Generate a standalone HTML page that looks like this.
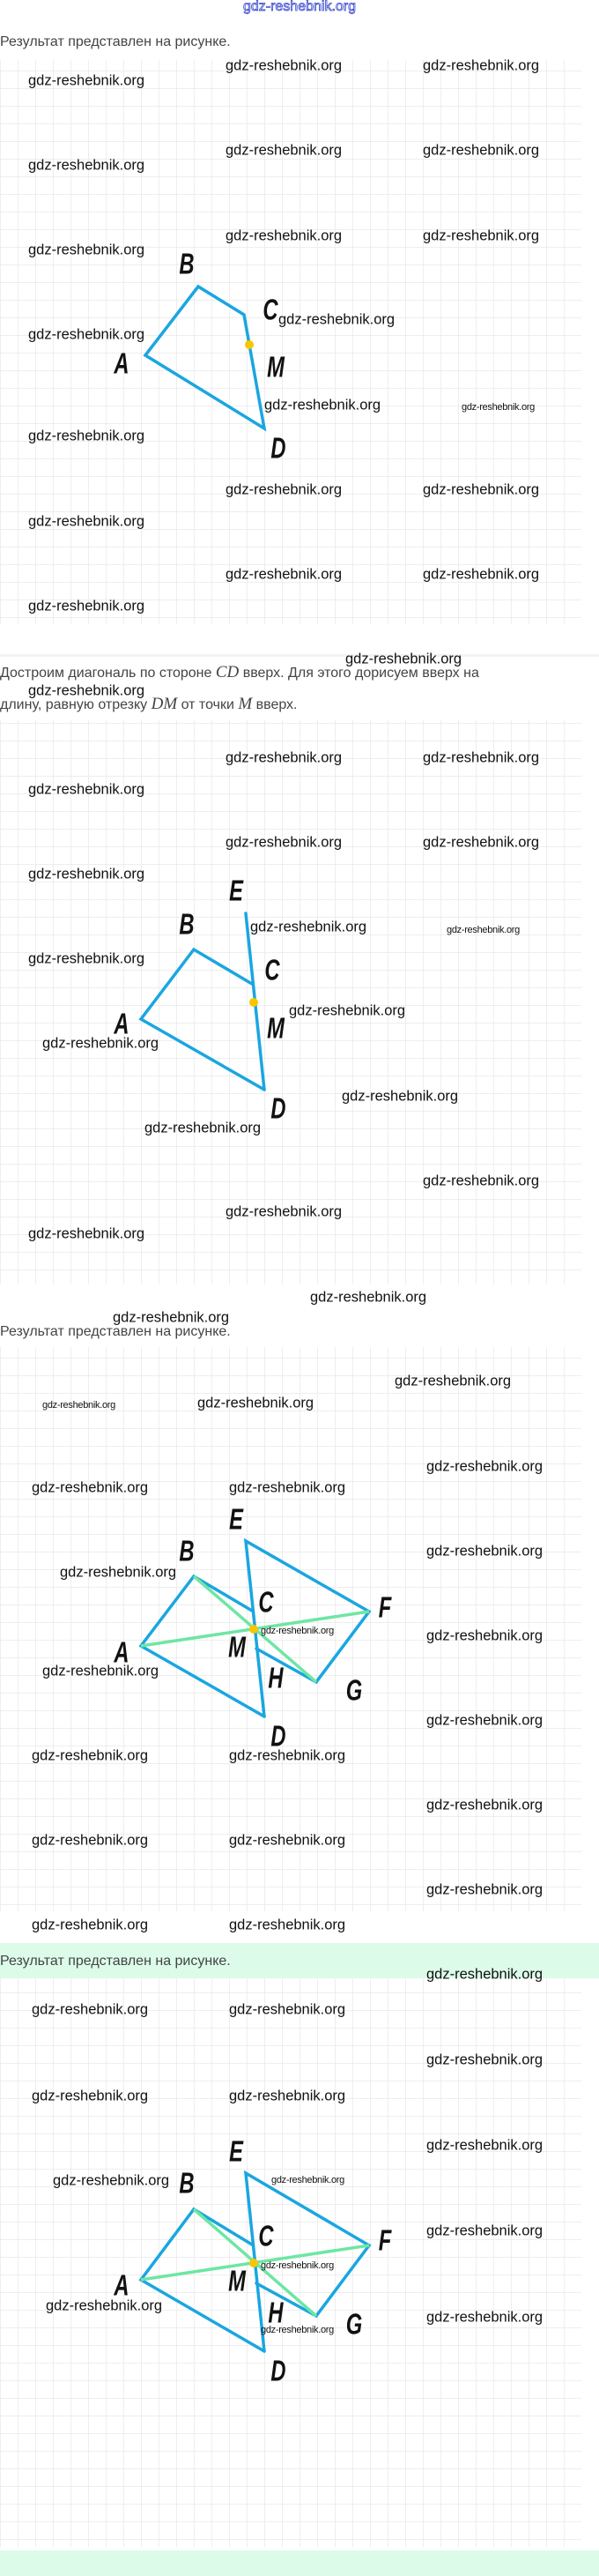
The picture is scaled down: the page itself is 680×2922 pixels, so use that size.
<!DOCTYPE html>
<html><head><meta charset="utf-8"><style>
html,body{margin:0;padding:0;background:#fff}
svg{display:block}
.w{font-family:"Liberation Sans",sans-serif;font-size:16.5px;fill:#111;dominant-baseline:middle}
.ws{font-family:"Liberation Sans",sans-serif;font-size:11px;fill:#111;dominant-baseline:middle;letter-spacing:-0.3px}
.t{font-family:"Liberation Sans",sans-serif;font-size:16px;fill:#444;dominant-baseline:middle}
.m{font-family:"Liberation Serif",serif;font-style:italic;font-size:19px;fill:#444}
.L{font-family:"Liberation Sans",sans-serif;font-weight:bold;font-style:italic;font-size:33px;fill:#111;text-anchor:middle;dominant-baseline:middle}
.b{stroke:#1aa6e0;stroke-width:3.5;fill:none;stroke-linejoin:miter;stroke-linecap:round}
.g{stroke:#6ee6a4;stroke-width:3.5;fill:none}
</style></head><body>
<svg width="680" height="2922" viewBox="0 0 680 2922" xmlns="http://www.w3.org/2000/svg">
<defs>
<pattern id="grid" x="0" y="0" width="20" height="20" patternUnits="userSpaceOnUse">
<path d="M 20 0 L 0 0 0 20" fill="none" stroke="#e9e9e9" stroke-width="1.6"/>
</pattern>
</defs>
<!-- section 1 -->
<text x="340" y="12" text-anchor="middle" font-family="Liberation Sans,sans-serif" font-size="16" fill="#fff" stroke="#3344cc" stroke-width="0.8">gdz-reshebnik.org</text>
<text class="t" x="0" y="48">Результат представлен на рисунке.</text>
<rect x="0" y="68" width="660" height="640" fill="url(#grid)"/>
<rect x="0" y="742" width="680" height="3" fill="#f2f2f2"/>
<text class="w" x="32" y="92">gdz-reshebnik.org</text><text class="w" x="256" y="75">gdz-reshebnik.org</text><text class="w" x="480" y="75">gdz-reshebnik.org</text>
<text class="w" x="32" y="188">gdz-reshebnik.org</text><text class="w" x="256" y="171">gdz-reshebnik.org</text><text class="w" x="480" y="171">gdz-reshebnik.org</text>
<text class="w" x="32" y="284">gdz-reshebnik.org</text><text class="w" x="256" y="268">gdz-reshebnik.org</text><text class="w" x="480" y="268">gdz-reshebnik.org</text>
<text class="w" x="32" y="380">gdz-reshebnik.org</text>
<text class="w" x="300" y="460">gdz-reshebnik.org</text><text class="ws" x="524" y="462">gdz-reshebnik.org</text>
<text class="w" x="32" y="495">gdz-reshebnik.org</text>
<text class="w" x="256" y="556">gdz-reshebnik.org</text><text class="w" x="480" y="556">gdz-reshebnik.org</text>
<text class="w" x="32" y="592">gdz-reshebnik.org</text>
<text class="w" x="256" y="652">gdz-reshebnik.org</text><text class="w" x="480" y="652">gdz-reshebnik.org</text>
<text class="w" x="32" y="688">gdz-reshebnik.org</text>
<polygon class="b" points="165,403 225,325 277,357 300,486"/>
<circle cx="283" cy="391" r="5" fill="#f7c600"/>
<text class="L" transform="translate(212,302) scale(0.72,1)">B</text>
<text class="L" transform="translate(307,354) scale(0.72,1)">C</text>
<text class="w" x="316" y="363">gdz-reshebnik.org</text>
<text class="L" transform="translate(138,415) scale(0.72,1)">A</text>
<text class="L" transform="translate(313,419) scale(0.72,1)">M</text>
<text class="L" transform="translate(316,511) scale(0.72,1)">D</text>

<!-- section 2 -->
<text class="t" x="0" y="764">Достроим диагональ по стороне <tspan class="m">CD</tspan> вверх. Для этого дорисуем вверх на</text>
<text class="t" x="0" y="800">длину, равную отрезку <tspan class="m">DM</tspan> от точки <tspan class="m">M</tspan> вверх.</text>
<text class="w" x="392" y="748">gdz-reshebnik.org</text>
<text class="w" x="32" y="784">gdz-reshebnik.org</text>
<rect x="0" y="817" width="660" height="640" fill="url(#grid)"/>
<text class="w" x="256" y="860">gdz-reshebnik.org</text><text class="w" x="480" y="860">gdz-reshebnik.org</text>
<text class="w" x="32" y="896">gdz-reshebnik.org</text>
<text class="w" x="256" y="956">gdz-reshebnik.org</text><text class="w" x="480" y="956">gdz-reshebnik.org</text>
<text class="w" x="32" y="992">gdz-reshebnik.org</text>
<text class="w" x="284" y="1052">gdz-reshebnik.org</text><text class="ws" x="507" y="1055">gdz-reshebnik.org</text>
<text class="w" x="32" y="1088">gdz-reshebnik.org</text>
<text class="w" x="328" y="1147">gdz-reshebnik.org</text>
<text class="w" x="388" y="1244">gdz-reshebnik.org</text>
<text class="w" x="480" y="1340">gdz-reshebnik.org</text>
<text class="w" x="256" y="1375">gdz-reshebnik.org</text>
<text class="w" x="32" y="1400">gdz-reshebnik.org</text>
<polyline class="b" points="286,1116 220,1077 160,1156 300,1236"/>
<line class="b" x1="279" y1="1036" x2="300" y2="1236"/>
<circle cx="288" cy="1137" r="5" fill="#f7c600"/>
<text class="L" transform="translate(268,1013) scale(0.72,1)">E</text>
<text class="L" transform="translate(212,1051) scale(0.72,1)">B</text>
<text class="L" transform="translate(309,1103) scale(0.72,1)">C</text>
<text class="L" transform="translate(138,1164) scale(0.72,1)">A</text>
<text class="L" transform="translate(313,1169) scale(0.72,1)">M</text>
<text class="L" transform="translate(316,1260) scale(0.72,1)">D</text>
<text class="w" x="48" y="1184">gdz-reshebnik.org</text>
<text class="w" x="164" y="1280">gdz-reshebnik.org</text>

<!-- section 3 -->
<text class="w" x="352" y="1472">gdz-reshebnik.org</text>
<text class="w" x="128" y="1495">gdz-reshebnik.org</text>
<text class="t" x="0" y="1511">Результат представлен на рисунке.</text>
<rect x="0" y="1528" width="660" height="640" fill="url(#grid)"/>
<text class="w" x="448" y="1567">gdz-reshebnik.org</text>
<text class="ws" x="48" y="1594">gdz-reshebnik.org</text>
<text class="w" x="224" y="1592">gdz-reshebnik.org</text>
<text class="w" x="484" y="1664">gdz-reshebnik.org</text>
<text class="w" x="36" y="1688">gdz-reshebnik.org</text><text class="w" x="260" y="1688">gdz-reshebnik.org</text>
<text class="w" x="484" y="1760">gdz-reshebnik.org</text>
<text class="w" x="484" y="1856">gdz-reshebnik.org</text>
<text class="w" x="484" y="1952">gdz-reshebnik.org</text>
<text class="w" x="36" y="1992">gdz-reshebnik.org</text><text class="w" x="260" y="1992">gdz-reshebnik.org</text>
<text class="w" x="484" y="2048">gdz-reshebnik.org</text>
<text class="w" x="36" y="2088">gdz-reshebnik.org</text><text class="w" x="260" y="2088">gdz-reshebnik.org</text>
<text class="w" x="484" y="2144">gdz-reshebnik.org</text>
<text class="w" x="36" y="2184">gdz-reshebnik.org</text><text class="w" x="260" y="2184">gdz-reshebnik.org</text>
<polyline class="b" points="286,1827 220,1788 160,1867 300,1947"/>
<polyline class="b" points="300,1947 279,1748 419,1828 359,1908 291,1870"/>
<line class="g" x1="220" y1="1788" x2="359" y2="1908"/>
<line class="g" x1="160" y1="1867" x2="419" y2="1828"/>
<circle cx="288" cy="1848" r="5" fill="#f7c600"/>
<text class="L" transform="translate(268,1726) scale(0.72,1)">E</text>
<text class="L" transform="translate(212,1762) scale(0.72,1)">B</text>
<text class="L" transform="translate(302,1820) scale(0.72,1)">C</text>
<text class="L" transform="translate(437,1826) scale(0.72,1)">F</text>
<text class="L" transform="translate(138,1877) scale(0.72,1)">A</text>
<text class="L" transform="translate(269,1871) scale(0.72,1)">M</text>
<text class="L" transform="translate(313,1906) scale(0.72,1)">H</text>
<text class="L" transform="translate(402,1920) scale(0.72,1)">G</text>
<text class="L" transform="translate(316,1972) scale(0.72,1)">D</text>
<text class="w" x="68" y="1784">gdz-reshebnik.org</text>
<text class="ws" x="296" y="1850">gdz-reshebnik.org</text>
<text class="w" x="48" y="1896">gdz-reshebnik.org</text>

<!-- section 4 -->
<rect x="0" y="2204" width="680" height="40" fill="#dcfbe9"/>
<rect x="0" y="2893" width="680" height="29" fill="#dcfbe9"/>
<text class="t" x="0" y="2225">Результат представлен на рисунке.</text>
<rect x="0" y="2244" width="660" height="645" fill="url(#grid)"/>
<text class="w" x="484" y="2240">gdz-reshebnik.org</text>
<text class="w" x="36" y="2280">gdz-reshebnik.org</text><text class="w" x="260" y="2280">gdz-reshebnik.org</text>
<text class="w" x="484" y="2337">gdz-reshebnik.org</text>
<text class="w" x="36" y="2378">gdz-reshebnik.org</text><text class="w" x="260" y="2378">gdz-reshebnik.org</text>
<text class="w" x="484" y="2434">gdz-reshebnik.org</text>
<text class="w" x="484" y="2531">gdz-reshebnik.org</text>
<text class="w" x="484" y="2629">gdz-reshebnik.org</text>
<polyline class="b" points="286,2546 220,2506 160,2586 300,2667"/>
<polyline class="b" points="300,2667 279,2465 419,2547 359,2627 291,2590"/>
<line class="g" x1="220" y1="2506" x2="359" y2="2627"/>
<line class="g" x1="160" y1="2586" x2="419" y2="2547"/>
<circle cx="288" cy="2567" r="5" fill="#f7c600"/>
<text class="L" transform="translate(268,2443) scale(0.72,1)">E</text>
<text class="L" transform="translate(212,2479) scale(0.72,1)">B</text>
<text class="L" transform="translate(302,2539) scale(0.72,1)">C</text>
<text class="L" transform="translate(437,2544) scale(0.72,1)">F</text>
<text class="L" transform="translate(138,2595) scale(0.72,1)">A</text>
<text class="L" transform="translate(269,2590) scale(0.72,1)">M</text>
<text class="L" transform="translate(313,2626) scale(0.72,1)">H</text>
<text class="L" transform="translate(402,2639) scale(0.72,1)">G</text>
<text class="L" transform="translate(316,2692) scale(0.72,1)">D</text>
<text class="w" x="60" y="2474">gdz-reshebnik.org</text>
<text class="ws" x="308" y="2473">gdz-reshebnik.org</text>
<text class="ws" x="296" y="2570">gdz-reshebnik.org</text>
<text class="w" x="52" y="2616">gdz-reshebnik.org</text>
<text class="ws" x="296" y="2643">gdz-reshebnik.org</text>
</svg>
</body></html>
